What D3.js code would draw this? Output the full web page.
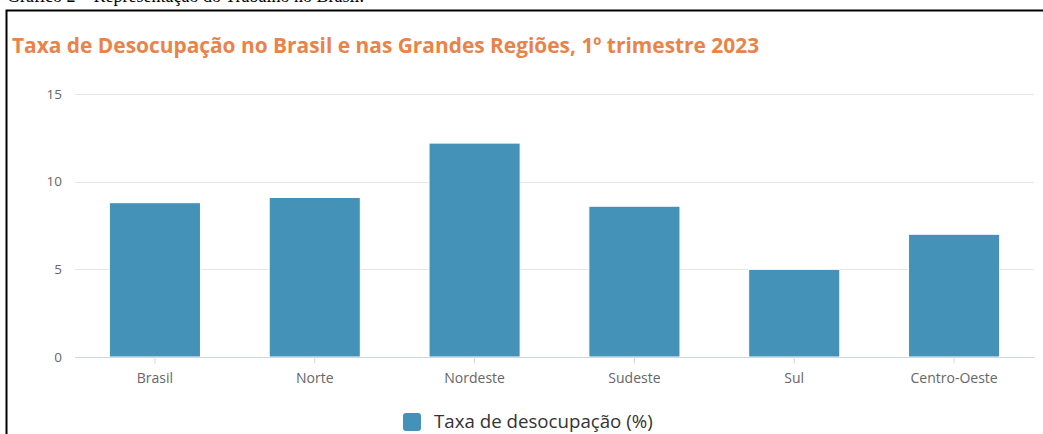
<!DOCTYPE html>
<html>
<head>
<meta charset="utf-8">
<script src="https://cdn.jsdelivr.net/npm/d3@7"></script>
<style>
  body { margin: 0; background: #fff; }
  svg { display: block; }
</style>
</head>
<body>
<svg width="1043" height="434"></svg>
<script>
// dados
var regioes = ["Brasil", "Norte", "Nordeste", "Sudeste", "Sul", "Centro-Oeste"];
var taxa = [8.8, 9.1, 12.2, 8.6, 5.0, 7.0];
var yTicks = [0, 5, 10, 15];
var serieNome = "Taxa de desocupação (%)";

var svg = d3.select("svg");
var width = +svg.attr("width");
var height = +svg.attr("height");

var barColor = "#4592b8";

// legenda do documento (cortada no topo)
svg.append("text")
    .attr("x", 7).attr("y", 2)
    .attr("font-family", "Liberation Serif, Times New Roman, serif")
    .attr("font-size", 18)
    .attr("fill", "#000")
    .text("Gráfico 2 – Representação do Trabalho no Brasil.");

// moldura
svg.append("path")
    .attr("d", "M6.5," + height + "V10.5H" + width)
    .attr("fill", "none")
    .attr("stroke", "#000")
    .attr("stroke-width", 2);

svg.append("text")
    .attr("x", 12).attr("y", 53)
    .attr("font-family", "Open Sans, sans-serif")
    .attr("font-weight", "bold")
    .attr("font-size", 20.9)
    .attr("fill", "#e8844a")
    .text("Taxa de Desocupação no Brasil e nas Grandes Regiões, 1º trimestre 2023");

var margin = {left: 75, right: 9, top: 94, bottom: 77};

var x = d3.scaleBand()
    .domain(regioes)
    .range([margin.left, width - margin.right])
    .paddingInner(0.43)
    .paddingOuter(0.215);

var y = d3.scaleLinear()
    .domain([0, 15])
    .range([height - margin.bottom, margin.top]);

// grade
svg.append("g")
    .selectAll("line")
    .data(yTicks.filter(function(d) { return d > 0; }))
    .enter().append("line")
    .attr("x1", margin.left).attr("x2", width - margin.right)
    .attr("y1", function(d) { return Math.round(y(d)) + 0.5; })
    .attr("y2", function(d) { return Math.round(y(d)) + 0.5; })
    .attr("stroke", "#e6e6e6");

var yAxis = svg.append("g")
    .attr("transform", "translate(" + (margin.left - 13) + ",0)")
    .call(d3.axisLeft(y).tickValues(yTicks).tickSize(0).tickPadding(0));
yAxis.select(".domain").remove();
yAxis.selectAll("text")
    .attr("font-family", "Open Sans, sans-serif")
    .attr("font-size", 13.5)
    .attr("fill", "#666");

// barras
svg.append("g")
    .selectAll("rect")
    .data(regioes)
    .enter().append("rect")
    .attr("x", function(d) { return x(d); })
    .attr("width", x.bandwidth())
    .attr("y", function(d, i) { return y(taxa[i]); })
    .attr("height", function(d, i) { return y(0) - y(taxa[i]); })
    .attr("fill", barColor)
    .attr("stroke", "#fff")
    .attr("stroke-width", 1);

var xAxis = svg.append("g")
    .attr("transform", "translate(0," + (Math.round(y(0)) + 0.5) + ")")
    .call(d3.axisBottom(x).tickSize(6).tickPadding(10).tickSizeOuter(0));
xAxis.select(".domain").attr("stroke", "#ccd6eb").attr("d", "M" + margin.left + ",0H" + (width - margin.right));
xAxis.selectAll(".tick line").attr("stroke", "#ccd6eb");
xAxis.selectAll("text")
    .attr("font-family", "Open Sans, sans-serif")
    .attr("font-size", 14)
    .attr("fill", "#666");

// legenda
var leg = svg.append("g").attr("transform", "translate(403,413)");
leg.append("rect")
    .attr("width", 18).attr("height", 18)
    .attr("rx", 3)
    .attr("fill", barColor);
leg.append("text")
    .attr("x", 31).attr("y", 15)
    .attr("font-family", "Open Sans, sans-serif")
    .attr("font-size", 18.7)
    .attr("fill", "#333")
    .text(serieNome);
</script>
</body>
</html>
